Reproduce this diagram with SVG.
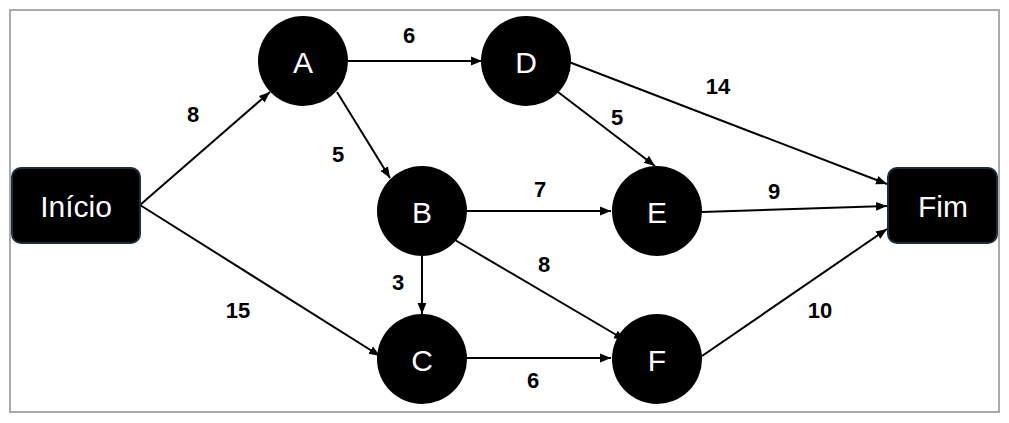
<svg xmlns="http://www.w3.org/2000/svg" width="1009" height="423" viewBox="0 0 1009 423">
<style>
.node{fill:#000}
.box{fill:#000;stroke:#1c2e38;stroke-width:2}
.nt{fill:#fff;font-family:"Liberation Sans",Arial,sans-serif;font-size:30px;text-anchor:middle;dominant-baseline:central}
.lb{fill:#000;font-family:"Liberation Sans",Arial,sans-serif;font-size:22px;font-weight:bold;text-anchor:middle}
.e{stroke:#000;stroke-width:2;fill:none;marker-end:url(#ah)}
</style>
<defs>
<marker id="ah" viewBox="0 0 10 10" refX="10" refY="5" markerWidth="5.5" markerHeight="5.5" orient="auto" markerUnits="strokeWidth">
<path d="M0,1 L10,5 L0,9 z" fill="#000"/>
</marker>
</defs>
<rect x="10" y="10" width="989" height="402" fill="#fff" stroke="#aaa" stroke-width="2"/>
<g id="connectors">
<line class="e" x1="140" y1="205" x2="270" y2="92"/>
<line class="e" x1="140" y1="205" x2="380" y2="356"/>
<line class="e" x1="348" y1="61" x2="482" y2="61"/>
<line class="e" x1="337" y1="92" x2="390" y2="178"/>
<line class="e" x1="558" y1="92" x2="655" y2="166"/>
<line class="e" x1="569" y1="62" x2="887" y2="184"/>
<line class="e" x1="467" y1="211" x2="611" y2="211"/>
<line class="e" x1="702" y1="212" x2="887" y2="206"/>
<line class="e" x1="455" y1="240" x2="625" y2="340"/>
<line class="e" x1="422" y1="256" x2="422" y2="314"/>
<line class="e" x1="467" y1="358" x2="611" y2="358"/>
<line class="e" x1="702" y1="356" x2="887" y2="229"/>
</g>
<g id="labels">
<text class="lb" x="193" y="122">8</text>
<text class="lb" x="409" y="43">6</text>
<text class="lb" x="338" y="162">5</text>
<text class="lb" x="617" y="125">5</text>
<text class="lb" x="718" y="94">14</text>
<text class="lb" x="540" y="197">7</text>
<text class="lb" x="774" y="199">9</text>
<text class="lb" x="398" y="290">3</text>
<text class="lb" x="544" y="272">8</text>
<text class="lb" x="238" y="318">15</text>
<text class="lb" x="820" y="318">10</text>
<text class="lb" x="533" y="388">6</text>
</g>
<g id="inicio"><rect class="box" x="12" y="168" width="128" height="75" rx="9"/><text class="nt" x="76" y="206">Início</text></g>
<g id="fim"><rect class="box" x="888" y="168" width="109" height="75" rx="9"/><text class="nt" x="943" y="206">Fim</text></g>
<g id="A"><circle class="node" cx="303" cy="61" r="45"/><text class="nt" x="303" y="62">A</text></g>
<g id="D"><circle class="node" cx="526" cy="61" r="45"/><text class="nt" x="526" y="62">D</text></g>
<g id="B"><circle class="node" cx="422" cy="211" r="45"/><text class="nt" x="422" y="212">B</text></g>
<g id="E"><circle class="node" cx="657" cy="211" r="45"/><text class="nt" x="657" y="212">E</text></g>
<g id="C"><circle class="node" cx="422" cy="359" r="45"/><text class="nt" x="422" y="360">C</text></g>
<g id="F"><circle class="node" cx="657" cy="359" r="45"/><text class="nt" x="657" y="360">F</text></g>
</svg>
